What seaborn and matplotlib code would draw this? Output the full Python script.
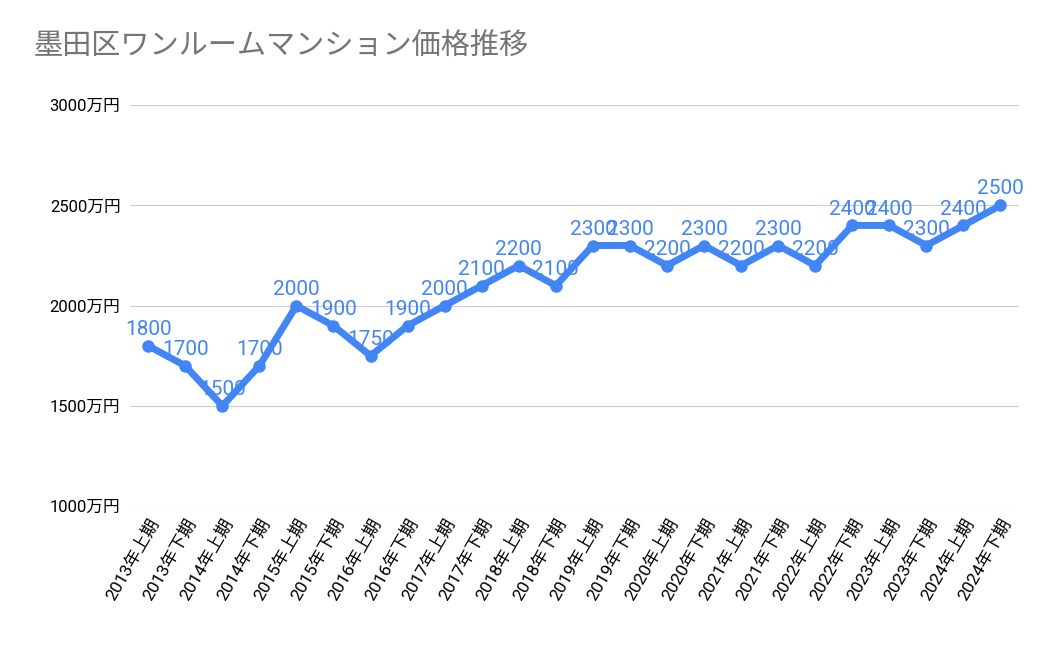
import matplotlib
matplotlib.use("Agg")
import matplotlib.pyplot as plt
import seaborn as sns
import pandas as pd

plt.rcParams["font.family"] = ["Roboto", "Noto Sans CJK JP"]

periods = [f"{y}年{h}期" for y in range(2013, 2025) for h in ("上", "下")]
prices = [1800, 1700, 1500, 1700, 2000, 1900, 1750, 1900, 2000, 2100, 2200, 2100,
          2300, 2300, 2200, 2300, 2200, 2300, 2200, 2400, 2400, 2300, 2400, 2500]
y_ticks = [1000, 1500, 2000, 2500, 3000]

df = pd.DataFrame({"period": periods, "price": prices, "x": range(len(periods))})
blue = "#4285F4"

fig = plt.figure(figsize=(10.5, 6.49), dpi=100)
ax = fig.add_axes([0.124, 0.220, 0.846, 0.618])
sns.lineplot(data=df, x="x", y="price", ax=ax, color=blue, linewidth=5,
             marker="o", markersize=9, markeredgewidth=0)
for x, v in zip(df["x"], df["price"]):
    ax.annotate(str(v), (x, v), xytext=(0, 5), textcoords="offset points",
                ha="center", va="bottom", color=blue, fontsize=15)

ax.set_xlim(-0.486, len(periods) - 1 + 0.486)
ax.set_ylim(1000, 3000)
ax.set_yticks(y_ticks)
ax.set_yticklabels([f"{t}万円" for t in y_ticks], fontsize=12)
ax.set_xticks(df["x"])
ax.set_xticklabels(periods, rotation=60, ha="right", rotation_mode="anchor", fontsize=12.5)
ax.tick_params(length=0, pad=7)
ax.grid(axis="y", color="#cccccc", linewidth=0.8)
ax.set_axisbelow(True)
for s in ax.spines.values():
    s.set_visible(False)
ax.set_xlabel("")
ax.set_ylabel("")
fig.text(0.032, 0.915, "墨田区ワンルームマンション価格推移", fontsize=21, color="#757575",
         fontfamily="Noto Sans CJK JP")
fig.savefig("out.png", dpi=100)
